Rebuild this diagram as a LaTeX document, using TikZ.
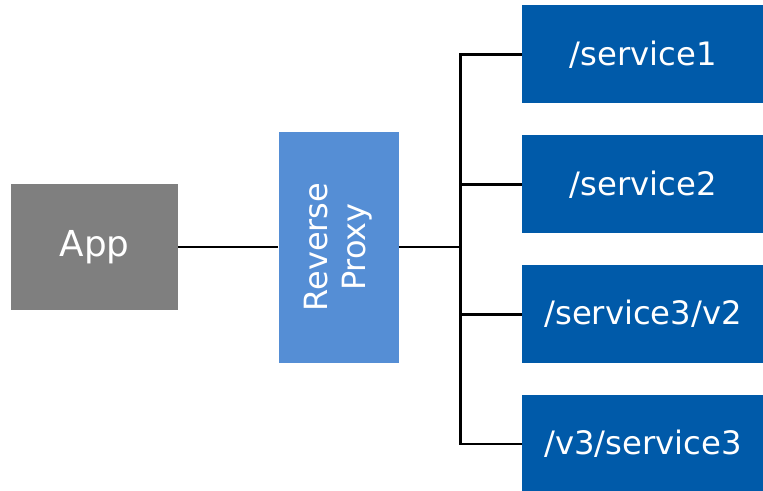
\documentclass[tikz,border=0pt]{standalone}
\usepackage{fontspec}
\setmainfont{DejaVu Sans}
\usetikzlibrary{positioning}
\definecolor{appgray}{HTML}{7F7F7F}
\definecolor{proxyblue}{HTML}{558ED5}
\definecolor{svcblue}{HTML}{005AA9}
\tikzstyle{client} = [rectangle, inner sep=0pt, minimum width=125.25pt, minimum height=94.5pt, text centered, fill=appgray, text=white, font=\fontsize{26.8}{32}\selectfont]
\tikzstyle{gateway} = [rectangle, inner sep=0pt, minimum width=90pt, minimum height=173.25pt, text centered, fill=proxyblue, text=white, font=\fontsize{24}{28.5}\selectfont]
\tikzstyle{backend} = [rectangle, inner sep=0pt, minimum width=181.5pt, minimum height=73.5pt, text centered, fill=svcblue, text=white, font=\fontsize{24.2}{29}\selectfont]
\tikzstyle{link} = [line width=2.1pt, black]

\begin{document}
\begin{tikzpicture}
            \useasboundingbox (0,0) rectangle (572.25pt,-367.5pt);
            \node (app) [client] at (70.875pt,-185.25pt) {App};
            \node (rp) [gateway, right=75pt of app] {\rotatebox{90}{\begin{tabular}{@{}c@{}}Reverse\\Proxy\end{tabular}}};
            \node (svc2) [backend, right=92.25pt of rp, yshift=47pt] {/service2};
            \node (svc1) [backend, above=23.5pt of svc2] {/service1};
            \node (svc3) [backend, below=23.5pt of svc2] {/service3/v2};
            \node (svc4) [backend, below=23.5pt of svc3] {/v3/service3};
            \coordinate [right=46.5pt of rp.east] (fork);

            \draw [link] (app) -- (rp);
            \draw [link] (rp) -- (fork);
            \foreach \s in {svc1,svc2,svc3,svc4}
                \draw [link] (fork) |- (\s);
\end{tikzpicture}
\end{document}
